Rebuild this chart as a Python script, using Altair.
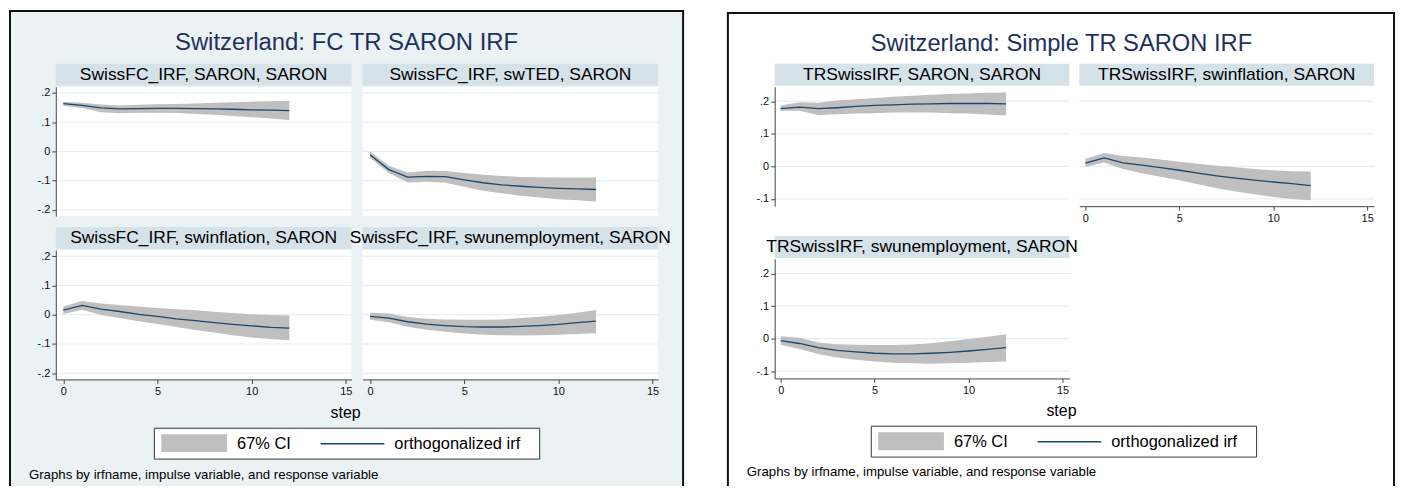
import altair as alt
import pandas as pd

# ---------------- data ----------------
STEPS = list(range(13))
X_TICKS = [0, 5, 10, 15]
FC_Y_TICKS = [-0.2, -0.1, 0, 0.1, 0.2]
TR_Y_TICKS = [-0.1, 0, 0.1, 0.2]

FC_TITLE = "Switzerland: FC TR SARON IRF"
TR_TITLE = "Switzerland: Simple TR SARON IRF"
LEGEND_LABELS = ["67% CI", "orthogonalized irf"]
X_TITLE = "step"
NOTE = "Graphs by irfname, impulse variable, and response variable"

FC_HEADERS = ["SwissFC_IRF, SARON, SARON", "SwissFC_IRF, swTED, SARON",
              "SwissFC_IRF, swinflation, SARON", "SwissFC_IRF, swunemployment, SARON"]
TR_HEADERS = ["TRSwissIRF, SARON, SARON", "TRSwissIRF, swinflation, SARON",
              "TRSwissIRF, swunemployment, SARON"]

FC_SARON_IRF = [0.163, 0.157, 0.149, 0.145, 0.146, 0.147, 0.147, 0.146, 0.145, 0.144, 0.142, 0.141, 0.139]
FC_SARON_LO = [0.156, 0.148, 0.134, 0.130, 0.132, 0.132, 0.131, 0.128, 0.125, 0.121, 0.117, 0.112, 0.107]
FC_SARON_HI = [0.169, 0.166, 0.160, 0.157, 0.159, 0.161, 0.162, 0.164, 0.166, 0.168, 0.170, 0.171, 0.173]

FC_TED_IRF = [-0.011, -0.062, -0.088, -0.085, -0.086, -0.097, -0.107, -0.114, -0.119, -0.123, -0.126, -0.128, -0.130]
FC_TED_LO = [-0.022, -0.074, -0.106, -0.104, -0.107, -0.121, -0.134, -0.143, -0.151, -0.157, -0.163, -0.167, -0.171]
FC_TED_HI = [0.000, -0.049, -0.072, -0.066, -0.067, -0.074, -0.080, -0.084, -0.087, -0.088, -0.089, -0.089, -0.089]

FC_INF_IRF = [0.016, 0.032, 0.019, 0.011, 0.001, -0.006, -0.014, -0.020, -0.027, -0.033, -0.038, -0.043, -0.046]
FC_INF_LO = [0.002, 0.017, -0.001, -0.011, -0.022, -0.032, -0.042, -0.052, -0.061, -0.070, -0.078, -0.083, -0.087]
FC_INF_HI = [0.028, 0.047, 0.038, 0.033, 0.028, 0.023, 0.019, 0.015, 0.010, 0.006, 0.002, -0.001, -0.003]

FC_UNE_IRF = [-0.006, -0.012, -0.024, -0.032, -0.037, -0.041, -0.042, -0.042, -0.040, -0.037, -0.033, -0.027, -0.022]
FC_UNE_LO = [-0.017, -0.026, -0.041, -0.051, -0.058, -0.064, -0.068, -0.070, -0.071, -0.070, -0.068, -0.066, -0.063]
FC_UNE_HI = [0.007, 0.004, -0.008, -0.014, -0.016, -0.017, -0.017, -0.016, -0.011, -0.007, -0.001, 0.007, 0.016]

TR_SARON_IRF = [0.177, 0.182, 0.177, 0.180, 0.184, 0.187, 0.189, 0.191, 0.192, 0.193, 0.193, 0.193, 0.192]
TR_SARON_LO = [0.171, 0.171, 0.158, 0.160, 0.162, 0.163, 0.165, 0.165, 0.165, 0.163, 0.162, 0.159, 0.156]
TR_SARON_HI = [0.187, 0.197, 0.195, 0.202, 0.206, 0.210, 0.214, 0.217, 0.220, 0.222, 0.224, 0.226, 0.227]

TR_INF_IRF = [0.010, 0.026, 0.011, 0.004, -0.004, -0.012, -0.021, -0.029, -0.036, -0.042, -0.048, -0.053, -0.059]
TR_INF_LO = [-0.002, 0.012, -0.008, -0.021, -0.032, -0.043, -0.055, -0.067, -0.077, -0.086, -0.094, -0.100, -0.104]
TR_INF_HI = [0.023, 0.041, 0.032, 0.027, 0.021, 0.014, 0.008, 0.002, -0.003, -0.008, -0.012, -0.015, -0.016]

TR_UNE_IRF = [-0.006, -0.015, -0.028, -0.036, -0.041, -0.045, -0.047, -0.047, -0.045, -0.042, -0.038, -0.033, -0.028]
TR_UNE_LO = [-0.019, -0.032, -0.047, -0.058, -0.065, -0.070, -0.074, -0.076, -0.077, -0.076, -0.074, -0.072, -0.070]
TR_UNE_HI = [0.007, 0.003, -0.012, -0.017, -0.019, -0.020, -0.020, -0.018, -0.014, -0.008, -0.001, 0.006, 0.013]

# ---------------- style ----------------
FONT = "Liberation Sans"
BG = "#eaf2f3"
STRIP = "#d6e2e9"
GRID = "#e3ebee"
BAND = "#bfbfbf"
LINE = "#1a476f"
TITLE_C = "#1f305e"
BORDER = "#111111"

FC_YDOM = [-0.221, 0.221]
TR_YDOM = [-0.1223, 0.2446]
FC_XDOM = [-0.4, 15.3]
TR_XDOM = [-0.32, 15.37]


def one(**kw):
    return pd.DataFrame({k: [v] for k, v in kw.items()})


def txt(text, x, y, size, color="#000000", align="left"):
    return alt.Chart(one(t=text)).mark_text(
        align=align, baseline="middle", font=FONT, fontSize=size, color=color
    ).encode(text="t:N", x=alt.value(x), y=alt.value(y))


def rect(x, x2, y, y2, fill, stroke=None, sw=1):
    kw = dict(fill=fill)
    if stroke:
        kw.update(stroke=stroke, strokeWidth=sw)
    return alt.Chart(one(k=0)).mark_rect(**kw).encode(
        x=alt.value(x), x2=alt.value(x2), y=alt.value(y), y2=alt.value(y2))


def vrule(x, y, y2, color=BORDER, sw=2):
    return alt.Chart(one(k=0)).mark_rule(color=color, strokeWidth=sw).encode(
        x=alt.value(x), y=alt.value(y), y2=alt.value(y2))


def hrule(y, x, x2, color=BORDER, sw=2):
    return alt.Chart(one(k=0)).mark_rule(color=color, strokeWidth=sw).encode(
        y=alt.value(y), x=alt.value(x), x2=alt.value(x2))


def legend_block(ox, oy):
    # ox, oy: top-left of the legend box relative to the panel origin
    return [
        rect(ox, ox + 387, oy, oy + 31, "white", stroke="#333333", sw=1),
        rect(ox + 7, ox + 73, oy + 6, oy + 24, BAND),
        txt(LEGEND_LABELS[0], ox + 83, oy + 15.5, 16.5),
        hrule(oy + 15.5, ox + 167, ox + 231, color=LINE, sw=1.5),
        txt(LEGEND_LABELS[1], ox + 241, oy + 15.5, 16.5),
    ]


AXIS_STYLE = dict(labelFont=FONT, labelFontSize=11, labelColor="#111111",
                  domainColor="#444444", tickColor="#444444", domainWidth=1,
                  tickWidth=1, tickSize=4, labelPadding=2, grid=False, zindex=1)


def panel(irf, lo, hi, header, ydom, yticks, xdom, w, h, show_x, show_y,
          before=(), after=()):
    df = pd.DataFrame({"step": STEPS, "irf": irf, "lo": lo, "hi": hi})
    xs = alt.Scale(domain=xdom, nice=False, zero=False)
    ys = alt.Scale(domain=ydom, nice=False, zero=False)
    xax = alt.Axis(values=X_TICKS, format="d", **AXIS_STYLE) if show_x else None
    yax = (alt.Axis(values=yticks,
                    labelExpr="replace(toString(datum.value), '0.', '.')", **AXIS_STYLE)
           if show_y else None)
    X = alt.X("step:Q", scale=xs, axis=xax, title=None)
    grid = alt.Chart(pd.DataFrame({"g": yticks})).mark_rule(
        color=GRID, strokeWidth=1).encode(y=alt.Y("g:Q", scale=ys, axis=yax, title=None))
    band = alt.Chart(df).mark_area(color=BAND, opacity=1).encode(
        x=X, y=alt.Y("lo:Q", scale=ys, axis=yax, title=None), y2="hi:Q")
    line = alt.Chart(df).mark_line(color=LINE, strokeWidth=1.3).encode(
        x=X, y=alt.Y("irf:Q", scale=ys, axis=yax, title=None))
    hdr = [rect(0, "width", -23, -1, STRIP), txt(header, w / 2, -12, 17.5, align="center")]
    layers = list(before) + hdr + [grid, band, line] + list(after)
    return alt.layer(*layers).properties(width=w, height=h)


# ---------------- left graph ----------------
WL, HL = 297, 130
left_bg = [
    rect(-47, 631, -77, 401, BG),
    vrule(-46, -77, 401), hrule(-76, -47, 631), vrule(630, -77, 401),
    rect(0, "width", 0, "height", "white"),
    txt(FC_TITLE, 292, -44, 24, color=TITLE_C, align="center"),
]
p1L = panel(FC_SARON_IRF, FC_SARON_LO, FC_SARON_HI, FC_HEADERS[0], FC_YDOM, FC_Y_TICKS,
            FC_XDOM, WL, HL, False, True, before=left_bg)
p2L = panel(FC_TED_IRF, FC_TED_LO, FC_TED_HI, FC_HEADERS[1], FC_YDOM, FC_Y_TICKS,
            FC_XDOM, WL, HL, False, False)
p3L = panel(FC_INF_IRF, FC_INF_LO, FC_INF_HI, FC_HEADERS[2], FC_YDOM, FC_Y_TICKS,
            FC_XDOM, WL, HL, True, True,
            after=[txt(X_TITLE, 291, 164, 16, align="center")] + legend_block(99, 179)
            + [txt(NOTE, -27, 226, 13.3)])
p4L = panel(FC_UNE_IRF, FC_UNE_LO, FC_UNE_HI, FC_HEADERS[3], FC_YDOM, FC_Y_TICKS,
            FC_XDOM, WL, HL, True, False)

left = alt.concat(p1L, p2L, p3L, p4L, columns=2,
                  spacing=alt.RowColnumber(row=34, column=11), bounds="flush")

# ---------------- right graph ----------------
WR, HR = 296, 120
right_bg = [
    rect(-48, 623, -77, 401, "white"),
    vrule(-47, -74, 401), hrule(-74, -48, 623), vrule(622, -74, 401),
    txt(TR_TITLE, 288, -43, 23.8, color=TITLE_C, align="center"),
]
p1R = panel(TR_SARON_IRF, TR_SARON_LO, TR_SARON_HI, TR_HEADERS[0], TR_YDOM, TR_Y_TICKS,
            TR_XDOM, WR, HR, False, True, before=right_bg)
p2R = panel(TR_INF_IRF, TR_INF_LO, TR_INF_HI, TR_HEADERS[1], TR_YDOM, TR_Y_TICKS,
            TR_XDOM, WR, HR, True, False)
p3R = panel(TR_UNE_IRF, TR_UNE_LO, TR_UNE_HI, TR_HEADERS[2], TR_YDOM, TR_Y_TICKS,
            TR_XDOM, WR, HR, True, True,
            after=[txt(X_TITLE, 288, 153, 16, align="center")] + legend_block(97, 168)
            + [txt(NOTE, -28, 214, 13.3)])

right = alt.concat(p1R, p2R, p3R, columns=2,
                   spacing=alt.RowColnumber(row=53, column=10), bounds="flush")

chart = alt.hconcat(left, right, spacing=41).properties(
    padding=0, background="white"
).configure_view(strokeWidth=0, fill="white")

chart.save("out.html", embed_options={"renderer": "svg", "actions": False})
